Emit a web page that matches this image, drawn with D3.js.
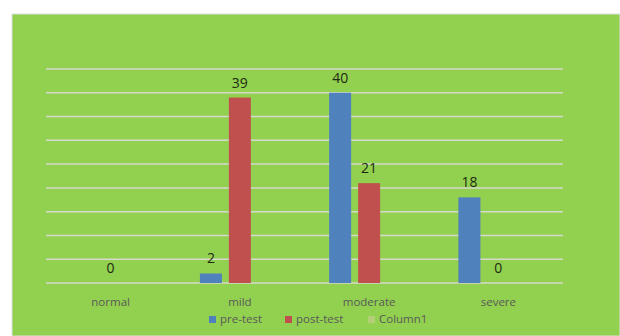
<!DOCTYPE html>
<html>
<head>
<meta charset="utf-8">
<script src="https://cdn.jsdelivr.net/npm/d3@7"></script>
<style>
  body { margin: 0; background: #fff; }
  text { font-family: "Open Sans", "Noto Sans", sans-serif; }
</style>
</head>
<body>
<svg id="chart" width="620" height="336"></svg>
<script>
var categories = ["normal", "mild", "moderate", "severe"];
var seriesNames = ["pre-test", "post-test", "Column1"];
var preTest = [null, 2, 40, 18];
var postTest = [0, 39, 21, 0];
var column1 = [null, null, null, null];
var yTicks = [0, 5, 10, 15, 20, 25, 30, 35, 40, 45];

var colors = ["#4f81bd", "#c0504d", "#b4cf78"];

var svg = d3.select("#chart"),
    width = +svg.attr("width"),
    height = +svg.attr("height");

// chart area
svg.append("rect")
    .attr("x", 12).attr("y", 14)
    .attr("width", width - 12).attr("height", height - 14)
    .attr("fill", "#92d050")
    .attr("stroke", "#e0e0e0")
    .attr("stroke-width", 1);

var x0 = d3.scaleBand()
    .domain(categories)
    .range([46, 563]);

var x1 = d3.scaleBand()
    .domain(seriesNames)
    .range([0, x0.bandwidth()])
    .paddingInner(0.241)
    .paddingOuter(0.85);

var y = d3.scaleLinear()
    .domain([0, 45])
    .range([283, 69]);

// gridlines
svg.append("g")
    .selectAll("line")
    .data(yTicks)
    .enter().append("line")
    .attr("x1", 46).attr("x2", 563)
    .attr("y1", function(d) { return y(d); })
    .attr("y2", function(d) { return y(d); })
    .attr("stroke", "#d6d9cc")
    .attr("stroke-width", 1.5);

var table = [preTest, postTest, column1];

var groups = svg.append("g")
    .selectAll("g")
    .data(categories)
    .enter().append("g")
    .attr("transform", function(d) { return "translate(" + x0(d) + ",0)"; });

var cells = groups.selectAll("g")
    .data(function(c, i) {
        return seriesNames.map(function(s, j) {
            return {series: s, idx: j, value: table[j][i]};
        }).filter(function(d) { return d.value !== null; });
    })
    .enter().append("g");

cells.append("rect")
    .attr("x", function(d) { return x1(d.series); })
    .attr("y", function(d) { return y(d.value); })
    .attr("width", x1.bandwidth())
    .attr("height", function(d) { return y(0) - y(d.value); })
    .attr("fill", function(d) { return colors[d.idx]; });

cells.append("text")
    .attr("x", function(d) { return x1(d.series) + x1.bandwidth() / 2; })
    .attr("y", function(d) { return y(d.value) - 10; })
    .attr("text-anchor", "middle")
    .attr("font-size", "14px")
    .attr("fill", "#1f2a10")
    .text(function(d) { return d.value; });

// category labels
svg.append("g")
    .selectAll("text")
    .data(categories)
    .enter().append("text")
    .attr("x", function(d) { return x0(d) + x0.bandwidth() / 2; })
    .attr("y", 305.5)
    .attr("text-anchor", "middle")
    .attr("font-size", "11.5px")
    .attr("fill", "#595959")
    .text(function(d) { return d; });

// legend
var legendX = [209, 285, 368];
var legend = svg.append("g")
    .selectAll("g")
    .data(seriesNames)
    .enter().append("g")
    .attr("transform", function(d, i) { return "translate(" + legendX[i] + ",319)"; });

legend.append("rect")
    .attr("x", 0).attr("y", -3)
    .attr("width", 7).attr("height", 7)
    .attr("fill", function(d, i) { return colors[i]; });

legend.append("text")
    .attr("x", 11)
    .attr("y", 3.5)
    .attr("font-size", "11.5px")
    .attr("fill", "#595959")
    .text(function(d) { return d; });
</script>
</body>
</html>
